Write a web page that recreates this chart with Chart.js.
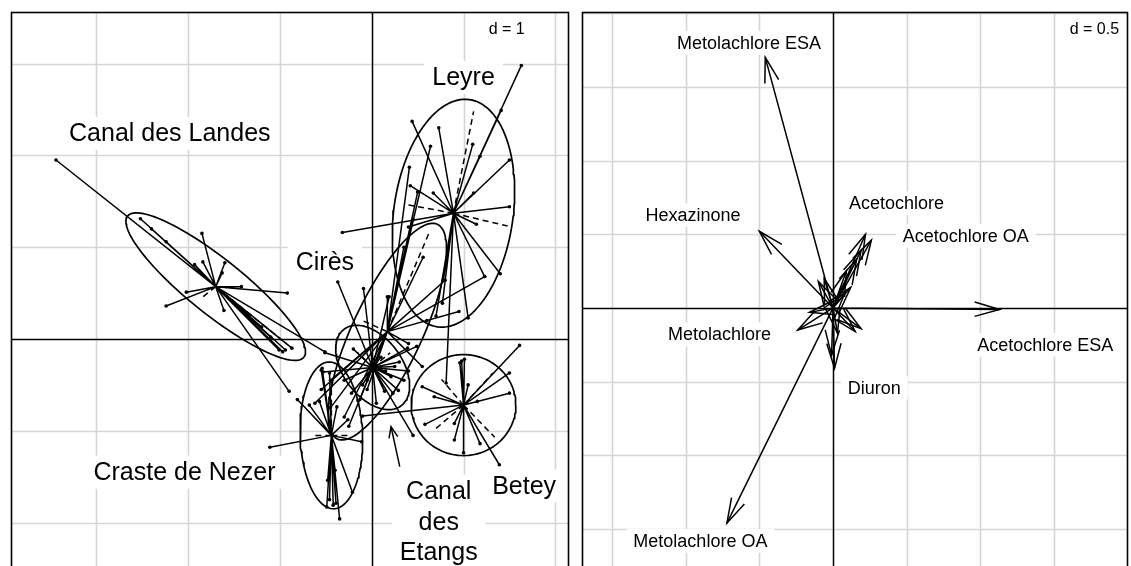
<!DOCTYPE html>
<html>
<head>
<meta charset="utf-8">
<script src="https://cdn.jsdelivr.net/npm/chart.js@4.4.0/dist/chart.umd.min.js"></script>
<style>
  body { margin: 0; background: #fff; overflow: hidden; }
  #classes { position: absolute; left: 0; top: 0; }
  #loadings { position: absolute; left: 572px; top: 0; }
</style>
</head>
<body>
<canvas id="classes" width="572" height="620"></canvas>
<canvas id="loadings" width="559" height="620"></canvas>
<script>
// ---- sites (d = 1) ----
const groupNames = ['Canal des Landes', 'Leyre', 'Cirès', 'Canal des Etangs', 'Craste de Nezer', 'Betey'];
const groupCentres = [[-1.70, 0.57], [0.89, 1.37], [0.01, -0.31], [0.17, 0.08], [-0.44, -1.05], [1.00, -0.72]];
// ellipse half-axes and tilt (degrees)
const ellipseA = [1.23, 1.25, 0.52, 1.29, 0.80, 0.57];
const ellipseB = [0.30, 0.65, 0.32, 0.38, 0.34, 0.55];
const ellipseAngle = [-38.7, 82, -53.5, 65, 92, 0];

const landesPts = [[-3.44, 1.95], [-2.52, 1.31], [-2.40, 1.20], [-2.24, 1.06], [-1.93, 0.81], [-1.85, 1.15],
  [-1.84, 0.84], [-1.60, 0.83], [-1.63, 0.72], [-2.02, 0.51], [-2.24, 0.36], [-1.42, 0.57],
  [-0.92, 0.50], [-1.61, 0.31], [-1.33, 0.26], [-1.20, 0.13], [-1.10, 0.02], [-1.01, -0.12],
  [-0.97, -0.14], [-0.94, -0.12], [-0.87, -0.10], [-0.90, -0.57], [-0.51, -0.14]];
const landesDash = [[-0.93, -0.05], [-1.85, 0.45]];

const leyrePts = [[1.63, 2.98], [1.41, 2.49], [0.44, 2.37], [0.73, 2.30], [1.10, 2.12], [1.18, 1.99],
  [1.50, 1.95], [0.42, 1.67], [0.67, 1.59], [1.11, 1.59], [1.50, 1.44], [1.14, 1.25],
  [1.40, 0.71], [1.23, 0.68], [1.05, 0.23], [0.40, 1.22], [-0.32, 1.16], [0.78, 0.64],
  [0.77, 0.39], [0.81, -0.48], [0.70, 0.25]];
const leyreDash = [[1.11, 2.48], [0.40, 1.46], [1.48, 1.23]];

const ciresPts = [[-0.37, 0.62], [-0.09, 0.55], [0.19, 0.46], [-0.51, -0.15], [-0.20, -0.11], [0.49, -0.08],
  [0.39, -0.10], [0.21, -0.41], [0.29, -0.56], [-0.53, -0.36], [-0.22, -0.59], [0.14, -0.57],
  [0.23, -0.59], [-0.13, -0.66], [0.45, -1.05], [0.10, -0.20], [0.30, -0.25], [-0.30, -0.45],
  [0.35, -0.45], [0.05, -0.70], [-0.05, -0.45], [0.15, -0.35], [0.25, -0.30], [-0.10, -0.50],
  [0.40, -0.35]];
const ciresDash = [[-0.15, -0.15], [0.20, -0.15]];

const etangsPts = [[0.41, 1.87], [0.64, 2.10], [0.56, 0.89], [0.80, 0.64], [1.23, 0.68], [0.17, 0.46],
  [0.45, 1.30], [0.35, 1.00], [0.95, 0.30], [-0.45, -0.45], [-0.62, -0.70], [-0.30, -0.85],
  [0.55, -0.30], [-0.05, -0.55], [0.40, -0.05], [-0.25, -0.95], [-0.45, -0.75], [0.50, 1.60],
  [0.30, 0.70], [0.60, 0.20], [-0.55, -0.55]];
const etangsDash = [[0.63, 1.17], [-0.10, 0.20]];

const crastePts = [[-0.55, -0.34], [-0.46, -0.37], [-0.54, -0.32], [-0.81, -0.66], [-0.68, -0.72], [-0.57, -0.68],
  [-0.38, -0.74], [-0.26, -0.88], [-1.11, -1.18], [-0.11, -1.12], [-0.21, -1.67], [-0.35, -1.96],
  [-0.49, -1.83], [-0.42, -1.81], [-0.46, -1.75], [-0.39, -1.79], [-0.40, -1.43], [-0.48, -1.54]];
const crasteDash = [[-0.62, -1.05], [-0.25, -1.05], [-0.44, -0.45]];

const beteyPts = [[1.61, -0.07], [1.50, -0.37], [1.50, -0.59], [0.96, -0.26], [1.01, -0.22], [0.98, -0.24],
  [1.05, -0.50], [0.55, -0.52], [0.68, -0.63], [1.15, -0.68], [0.58, -0.93], [0.90, -0.92],
  [0.90, -1.10], [1.00, -1.24], [1.18, -1.14], [1.39, -1.37], [-0.10, -0.84]];
const beteyDash = [[0.76, -0.44], [0.67, -1.00], [1.34, -1.07], [1.32, -0.37]];

const groupPts = [landesPts, leyrePts, ciresPts, etangsPts, crastePts, beteyPts];
const groupDash = [landesDash, leyreDash, ciresDash, etangsDash, crasteDash, beteyDash];

const classLabels = ['Canal des Landes', 'Leyre', 'Cirès', 'Canal\ndes\nEtangs', 'Craste de Nezer', 'Betey'];
const classLabelX = [-2.20, 1.00, -0.51, 0.73, -2.04, 1.66];
const classLabelY = [2.24, 2.85, 0.84, -1.99, -1.45, -1.60];

// ---- pesticides (d = 0.5) ----
const varNames = ['Metolachlore ESA', 'Hexazinone', 'Acetochlore', 'Acetochlore OA', 'Acetochlore ESA', 'Metolachlore', 'Diuron', 'Metolachlore OA'];
const varX = [-0.46, -0.50, 0.22, 0.26, 1.13, -0.24, 0.01, -0.72];
const varY = [1.70, 0.52, 0.50, 0.46, -0.01, -0.15, -0.41, -1.46];
const varLabelX = [-0.57, -0.95, 0.43, 0.90, 1.44, -0.77, 0.28, -0.90];
const varLabelY = [1.80, 0.63, 0.71, 0.49, -0.25, -0.18, -0.54, -1.58];
// short arrows without names
const otherX = [0.19, 0.16, 0.09, 0.08, -0.10, -0.06, 0.19, 0.15, 0.03, -0.01, -0.16, 0.12];
const otherY = [0.39, 0.33, 0.25, 0.10, 0.18, 0.20, -0.14, -0.16, -0.17, -0.32, -0.03, 0.14];

const FONT = '"Liberation Sans", Arial, sans-serif';

function starData(c, pts) {
  const out = [];
  pts.forEach(p => {
    out.push({x: c[0], y: c[1]}, {x: p[0], y: p[1]}, {x: p[0], y: null});
  });
  return out;
}

function ellipseData(c, a, b, deg) {
  const t = deg * Math.PI / 180, out = [];
  for (let i = 0; i <= 120; i++) {
    const u = i / 120 * 2 * Math.PI;
    const ex = a * Math.cos(u), ey = b * Math.sin(u);
    out.push({x: c[0] + ex * Math.cos(t) - ey * Math.sin(t), y: c[1] + ex * Math.sin(t) + ey * Math.cos(t)});
  }
  return out;
}

function lineSet(data, width, dash) {
  return {data, showLine: true, borderColor: '#000', borderWidth: width, borderDash: dash || [],
    pointRadius: 0, borderJoinStyle: 'round', tension: 0};
}

function drawLabel(ctx, text, px, py, size, pad) {
  const lines = text.split('\n');
  const lh = size * 1.22;
  ctx.font = size + 'px ' + FONT;
  const w = Math.max(...lines.map(l => ctx.measureText(l).width));
  const h = lh * (lines.length - 1) + size * 1.32;
  ctx.fillStyle = '#fff';
  ctx.fillRect(px - w / 2 - pad, py - h / 2, w + 2 * pad, h);
  ctx.fillStyle = '#000';
  ctx.textAlign = 'center';
  ctx.textBaseline = 'middle';
  lines.forEach((l, i) => ctx.fillText(l, px, py + (i - (lines.length - 1) / 2) * lh + 1));
}

function arrowHead(ctx, x0, y0, x1, y1, len, deg) {
  const ang = Math.atan2(y1 - y0, x1 - x0), t = deg * Math.PI / 180;
  ctx.beginPath();
  ctx.moveTo(x1 - len * Math.cos(ang - t), y1 - len * Math.sin(ang - t));
  ctx.lineTo(x1, y1);
  ctx.lineTo(x1 - len * Math.cos(ang + t), y1 - len * Math.sin(ang + t));
  ctx.stroke();
}

// grid, axes, labels and frame for both panels
const framePlugin = {
  id: 'frame',
  beforeDatasetsDraw(chart, args, o) {
    const {ctx, chartArea: a, scales: {x, y}} = chart;
    ctx.save();
    ctx.beginPath();
    ctx.rect(a.left, a.top, a.right - a.left, a.bottom - a.top);
    ctx.clip();
    ctx.strokeStyle = '#d5d5d5';
    ctx.lineWidth = 1.6;
    for (let k = Math.ceil(x.min / o.step); k * o.step <= x.max; k++) {
      if (k === 0) continue;
      const px = Math.round(x.getPixelForValue(k * o.step)) + 0.5;
      ctx.beginPath(); ctx.moveTo(px, a.top); ctx.lineTo(px, a.bottom); ctx.stroke();
    }
    for (let k = Math.ceil(y.min / o.step); k * o.step <= y.max; k++) {
      if (k === 0) continue;
      const py = Math.round(y.getPixelForValue(k * o.step)) + 0.5;
      ctx.beginPath(); ctx.moveTo(a.left, py); ctx.lineTo(a.right, py); ctx.stroke();
    }
    ctx.strokeStyle = '#000';
    ctx.lineWidth = 1.5;
    const x0 = Math.round(x.getPixelForValue(0)) + 0.5, y0 = Math.round(y.getPixelForValue(0)) + 0.5;
    ctx.beginPath(); ctx.moveTo(x0, a.top); ctx.lineTo(x0, a.bottom); ctx.stroke();
    ctx.beginPath(); ctx.moveTo(a.left, y0); ctx.lineTo(a.right, y0); ctx.stroke();
    ctx.restore();
  },
  afterDatasetsDraw(chart, args, o) {
    const {ctx, chartArea: a, scales: {x, y}} = chart;
    ctx.save();
    ctx.strokeStyle = '#000';
    ctx.lineWidth = 1.5;
    (o.heads || []).forEach(h => {
      arrowHead(ctx, x.getPixelForValue(h[0]), y.getPixelForValue(h[1]),
        x.getPixelForValue(h[2]), y.getPixelForValue(h[3]), o.headLen, o.headAngle);
    });
    (o.labels || []).forEach(l => {
      drawLabel(ctx, l.text, x.getPixelForValue(l.x), y.getPixelForValue(l.y), o.fontSize, o.pad);
    });
    // scale note
    ctx.font = '16px ' + FONT;
    const dw = ctx.measureText(o.scaleText).width;
    const dx = x.getPixelForValue(o.scaleAt[0]), dy = y.getPixelForValue(o.scaleAt[1]);
    ctx.fillStyle = '#fff';
    ctx.fillRect(dx - dw - 5, dy - 11, dw + 10, 22);
    ctx.fillStyle = '#000';
    ctx.textAlign = 'right';
    ctx.textBaseline = 'middle';
    ctx.fillText(o.scaleText, dx, dy);
    ctx.lineWidth = 1.6;
    ctx.strokeRect(Math.round(a.left) + 0.5, Math.round(a.top) + 0.5, Math.round(a.right - a.left), Math.round(a.bottom - a.top));
    ctx.restore();
  }
};

function panelOptions(xr, yr, padding, frame) {
  return {
    responsive: false,
    animation: false,
    events: [],
    layout: {padding},
    scales: {
      x: {type: 'linear', min: xr[0], max: xr[1], display: false},
      y: {type: 'linear', min: yr[0], max: yr[1], display: false}
    },
    plugins: {legend: {display: false}, tooltip: {enabled: false}, frame}
  };
}

// left panel: classes with stars and ellipses
const classSets = [];
groupNames.forEach((g, i) => {
  classSets.push(lineSet(ellipseData(groupCentres[i], ellipseA[i], ellipseB[i], ellipseAngle[i]), 1.7));
  classSets.push(lineSet(starData(groupCentres[i], groupPts[i]), 1.5));
  classSets.push(lineSet(starData(groupCentres[i], groupDash[i]), 1.5, [6, 4]));
  classSets.push({data: groupPts[i].map(p => ({x: p[0], y: p[1]})), pointRadius: 1.8,
    pointBackgroundColor: '#000', pointBorderWidth: 0});
});

new Chart(document.getElementById('classes'), {
  type: 'scatter',
  data: {datasets: classSets},
  options: panelOptions([-3.93, 2.138], [-2.974, 3.562], {left: 11, top: 12, right: 4, bottom: 8}, {
    step: 1,
    scaleText: 'd = 1',
    scaleAt: [1.667, 3.366],
    fontSize: 25,
    pad: 8,
    headLen: 12,
    headAngle: 22,
    heads: [[0.305, -1.39, 0.21, -0.955]],
    labels: classLabels.map((t, i) => ({text: t, x: classLabelX[i], y: classLabelY[i]}))
  }),
  plugins: [framePlugin, {
    id: 'pointer',
    afterDatasetsDraw(chart) {
      // shaft of the "Canal des Etangs" pointer
      const {ctx, scales: {x, y}} = chart;
      ctx.save();
      ctx.strokeStyle = '#000';
      ctx.lineWidth = 1.5;
      ctx.beginPath();
      ctx.moveTo(x.getPixelForValue(0.305), y.getPixelForValue(-1.39));
      ctx.lineTo(x.getPixelForValue(0.21), y.getPixelForValue(-0.955));
      ctx.stroke();
      ctx.restore();
    }
  }]
});

// right panel: pesticide arrows
const allX = varX.concat(otherX), allY = varY.concat(otherY);
const shafts = [];
allX.forEach((vx, i) => shafts.push({x: 0, y: 0}, {x: vx, y: allY[i]}, {x: vx, y: null}));

new Chart(document.getElementById('loadings'), {
  type: 'scatter',
  data: {datasets: [lineSet(shafts, 1.5)]},
  options: panelOptions([-1.703, 1.994], [-2.063, 2.008], {left: 10, top: 12, right: 4, bottom: 8}, {
    step: 0.5,
    scaleText: 'd = 0.5',
    scaleAt: [1.94, 1.886],
    fontSize: 18,
    pad: 7,
    headLen: 26,
    headAngle: 16,
    heads: allX.map((vx, i) => [0, 0, vx, allY[i]]),
    labels: varNames.map((t, i) => ({text: t, x: varLabelX[i], y: varLabelY[i]}))
  }),
  plugins: [framePlugin]
});
</script>
</body>
</html>
